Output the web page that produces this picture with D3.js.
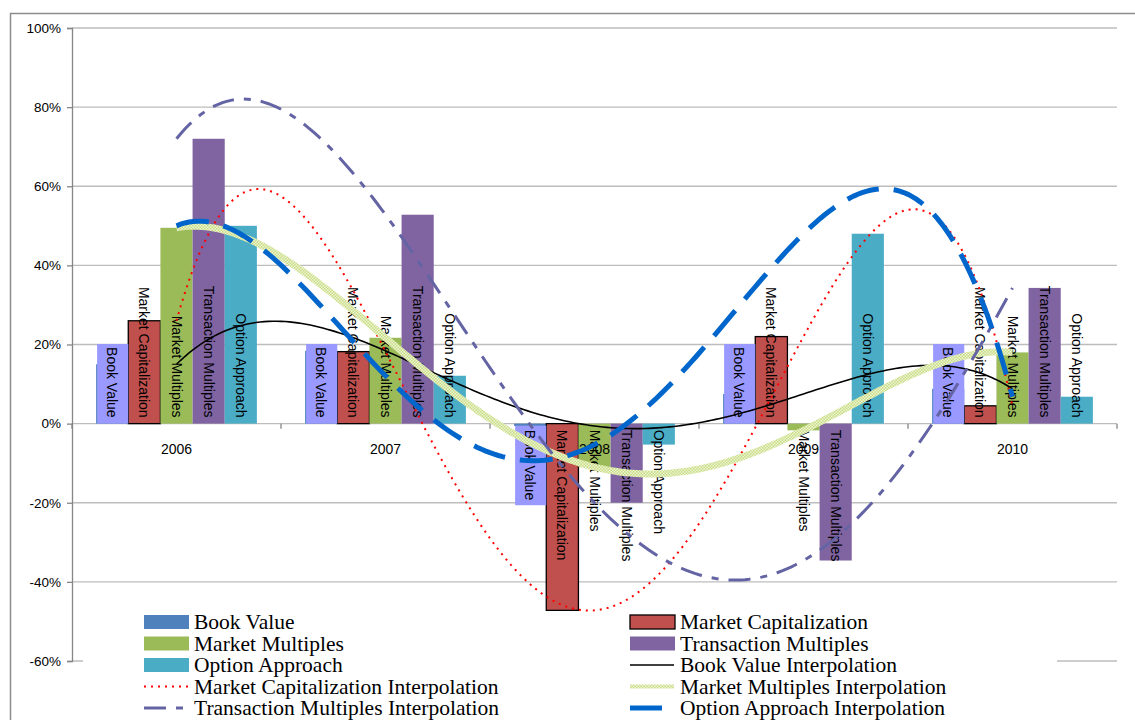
<!DOCTYPE html>
<html>
<head>
<meta charset="utf-8">
<script src="https://cdn.jsdelivr.net/npm/d3@7/dist/d3.min.js"></script>
<style>
  body { margin: 0; background: #fff; }
  svg { display: block; }
</style>
</head>
<body>
<div id="chart"></div>
<script>
// chart data (percent)
var years = ["2006", "2007", "2008", "2009", "2010"];
var seriesNames = ["Book Value", "Market Capitalization", "Market Multiples", "Transaction Multiples", "Option Approach"];
var bookValue = [15, 18.4, -0.6, 7.5, 8.8];
var marketCap = [26, 18.2, -47.2, 22, 4.5];
var marketMult = [49.5, 21.7, -11, -1.7, 18];
var transMult = [72, 52.8, -20, -34.6, 34.3];
var optionAppr = [50, 12.1, -5.3, 48, 6.8];
var yTicks = [-60, -40, -20, 0, 20, 40, 60, 80, 100];

var barColors = ["#4f81bd", "#c0504d", "#9bbb59", "#8064a2", "#4bacc6"];
var allValues = [bookValue, marketCap, marketMult, transMult, optionAppr];

var width = 1135, height = 720;
var margin = {top: 28, left: 72, right: 18, bottom: 59};

var svg = d3.select("#chart").append("svg")
    .attr("width", width)
    .attr("height", height);

var defs = svg.append("defs");
// checkered stroke for the market multiples interpolation
var pat = defs.append("pattern")
    .attr("id", "chk")
    .attr("width", 3).attr("height", 3)
    .attr("patternUnits", "userSpaceOnUse");
pat.append("rect").attr("width", 3).attr("height", 3).attr("fill", "#eef5d2");
pat.append("rect").attr("width", 1.5).attr("height", 1.5).attr("fill", "#c8dc86");
pat.append("rect").attr("x", 1.5).attr("y", 1.5).attr("width", 1.5).attr("height", 1.5).attr("fill", "#c8dc86");

// outer chart border
svg.append("rect")
    .attr("x", 10.5).attr("y", 13.5)
    .attr("width", 1200).attr("height", 800)
    .attr("fill", "none")
    .attr("stroke", "#8c8c8c")
    .attr("stroke-width", 1.5);

var x0 = d3.scaleBand().domain(years).range([margin.left, width - margin.right]);
var step = x0.bandwidth();
var gap = step * 1.5 / 6.5;
var x1 = d3.scaleBand().domain(seriesNames).range([gap / 2, step - gap / 2]);
var bw = x1.bandwidth();

var y = d3.scaleLinear().domain([-60, 100]).range([height - margin.bottom, margin.top]);

// gridlines
svg.append("g").selectAll("line")
    .data(yTicks)
    .enter().append("line")
    .attr("x1", margin.left).attr("x2", width - margin.right)
    .attr("y1", function(d) { return y(d); })
    .attr("y2", function(d) { return y(d); })
    .attr("stroke", "#bdbdbd")
    .attr("stroke-width", 1.3);

// y axis
var yAxis = svg.append("g")
    .attr("transform", "translate(" + margin.left + ",0)")
    .call(d3.axisLeft(y).tickValues(yTicks).tickSize(5).tickFormat(function(d) { return d + "%"; }));
yAxis.select(".domain").attr("stroke", "#868686").attr("stroke-width", 1.3);
yAxis.selectAll(".tick line").attr("stroke", "#868686").attr("stroke-width", 1.3);
yAxis.selectAll("text")
    .attr("x", -11)
    .attr("font-family", "Liberation Sans, Arial, sans-serif")
    .attr("font-size", 13.5)
    .attr("fill", "#000");

// category tick marks on the zero line
svg.append("g").selectAll("line")
    .data(years.concat(["end"]))
    .enter().append("line")
    .attr("x1", function(d, i) { return margin.left + i * step; })
    .attr("x2", function(d, i) { return margin.left + i * step; })
    .attr("y1", y(0)).attr("y2", y(0) + 5)
    .attr("stroke", "#868686")
    .attr("stroke-width", 1.3);

// bars
var barData = [];
years.forEach(function(yr, i) {
    seriesNames.forEach(function(s, j) {
        barData.push({year: yr, series: s, idx: j, value: allValues[j][i]});
    });
});

svg.append("g").selectAll("rect")
    .data(barData)
    .enter().append("rect")
    .attr("x", function(d) { return x0(d.year) + x1(d.series); })
    .attr("width", bw)
    .attr("y", function(d) { return y(Math.max(0, d.value)); })
    .attr("height", function(d) { return Math.abs(y(d.value) - y(0)); })
    .attr("fill", function(d) { return barColors[d.idx]; })
    .attr("stroke", function(d) { return d.idx == 1 ? "#000" : "none"; })
    .attr("stroke-width", 1.3);

// data labels (inside base, rotated)
var labels = svg.append("g").selectAll("text")
    .data(barData)
    .enter().append("text")
    .attr("transform", function(d) {
        var cx = x0(d.year) + x1(d.series) + bw / 2;
        var cy = d.value >= 0 ? y(0) - 6 : y(0) + 6;
        return "translate(" + cx + "," + cy + ") rotate(90)";
    })
    .attr("text-anchor", function(d) { return d.value >= 0 ? "end" : "start"; })
    .attr("dy", "0.35em")
    .attr("font-family", "Liberation Sans, Arial, sans-serif")
    .attr("font-size", 14)
    .attr("fill", "#000")
    .text(function(d) { return d.series; });

// lavender label boxes behind the book value labels
var bvBox = svg.insert("g", function() { return labels.node().parentNode; });
labels.filter(function(d) { return d.idx == 0; }).each(function(d) {
    var len = this.getComputedTextLength() + 9;
    var bx = x0(d.year) + x1(d.series) + 1;
    bvBox.append("rect")
        .attr("x", bx)
        .attr("width", bw - 1)
        .attr("y", d.value >= 0 ? y(0) - len : y(0) + 2)
        .attr("height", len)
        .attr("fill", "#9999ff");
});

// category labels
svg.append("g").selectAll("text")
    .data(years)
    .enter().append("text")
    .attr("x", function(d) { return x0(d) + step / 2; })
    .attr("y", y(0) + 30)
    .attr("text-anchor", "middle")
    .attr("font-family", "Liberation Sans, Arial, sans-serif")
    .attr("font-size", 14)
    .attr("fill", "#000")
    .text(function(d) { return d; });

// polynomial interpolation through the five yearly values
function lagrange(vals, t) {
    var sum = 0;
    for (var i = 0; i < vals.length; i++) {
        var p = vals[i];
        for (var j = 0; j < vals.length; j++) {
            if (j != i) p *= (t - j) / (i - j);
        }
        sum += p;
    }
    return sum;
}

var xt = d3.scaleLinear().domain([0, years.length - 1])
    .range([x0(years[0]) + step / 2, x0(years[years.length - 1]) + step / 2]);
var ts = d3.range(0, years.length - 1 + 0.001, 0.02);

var line = d3.line()
    .x(function(d) { return xt(d.t); })
    .y(function(d) { return y(d.v); });

var interpStyles = [
    {name: "Book Value Interpolation", stroke: "#000", width: 1.6, dash: null},
    {name: "Market Capitalization Interpolation", stroke: "#ff0000", width: 2, dash: "2,5"},
    {name: "Market Multiples Interpolation", stroke: "url(#chk)", width: 7, dash: null},
    {name: "Transaction Multiples Interpolation", stroke: "#6464a4", width: 3, dash: "22,10,7,10"},
    {name: "Option Approach Interpolation", stroke: "#0066cc", width: 5, dash: "33,15"}
];

allValues.forEach(function(vals, j) {
    var pts = ts.map(function(t) { return {t: t, v: lagrange(vals, t)}; });
    var st = interpStyles[j];
    svg.append("path")
        .datum(pts)
        .attr("d", line)
        .attr("fill", "none")
        .attr("stroke", st.stroke)
        .attr("stroke-width", st.width)
        .attr("stroke-dasharray", st.dash);
});

// legend
var legend = svg.append("g");
legend.append("rect")
    .attr("x", 83).attr("y", 613)
    .attr("width", 974).attr("height", 120)
    .attr("fill", "#fff");

var legendItems = [
    {label: "Book Value", type: "bar", color: barColors[0], col: 0, row: 0},
    {label: "Market Capitalization", type: "bar", color: barColors[1], col: 1, row: 0, outline: true},
    {label: "Market Multiples", type: "bar", color: barColors[2], col: 0, row: 1},
    {label: "Transaction Multiples", type: "bar", color: barColors[3], col: 1, row: 1},
    {label: "Option Approach", type: "bar", color: barColors[4], col: 0, row: 2},
    {label: interpStyles[0].name, type: "line", st: interpStyles[0], col: 1, row: 2},
    {label: interpStyles[1].name, type: "line", st: interpStyles[1], col: 0, row: 3},
    {label: interpStyles[2].name, type: "line", st: interpStyles[2], col: 1, row: 3},
    {label: interpStyles[3].name, type: "line", st: interpStyles[3], col: 0, row: 4},
    {label: interpStyles[4].name, type: "line", st: interpStyles[4], col: 1, row: 4}
];
var colX = [144, 630];
var rowBase = 629, rowStep = 21.5;

legendItems.forEach(function(it) {
    var lx = colX[it.col];
    var by = rowBase + it.row * rowStep;
    if (it.type == "bar") {
        legend.append("rect")
            .attr("x", lx).attr("y", by - 14)
            .attr("width", 45).attr("height", 14)
            .attr("fill", it.color)
            .attr("stroke", it.outline ? "#000" : "none")
            .attr("stroke-width", 1.3);
    } else {
        legend.append("line")
            .attr("x1", lx).attr("x2", lx + (it.st.width == 5 ? 32 : 44))
            .attr("y1", by - 7).attr("y2", by - 7)
            .attr("stroke", it.st.stroke)
            .attr("stroke-width", it.st.width == 7 ? 4 : it.st.width)
            .attr("stroke-dasharray", it.st.dash);
    }
    legend.append("text")
        .attr("x", lx + 50)
        .attr("y", by)
        .attr("font-family", "Liberation Serif, Times New Roman, serif")
        .attr("font-size", 21.5)
        .attr("fill", "#000")
        .text(it.label);
});
</script>
</body>
</html>
